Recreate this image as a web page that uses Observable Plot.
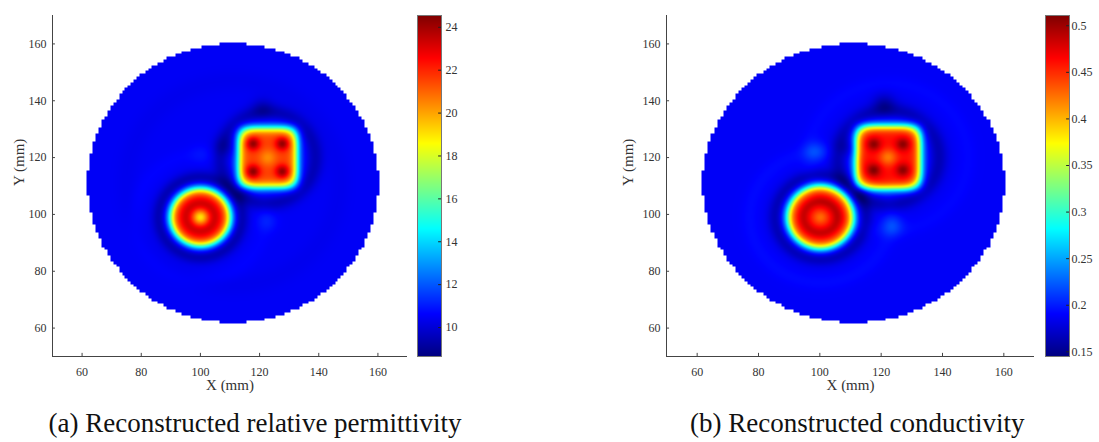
<!DOCTYPE html>
<html><head><meta charset="utf-8">
<script src="https://cdn.jsdelivr.net/npm/d3@7"></script>
<script src="https://cdn.jsdelivr.net/npm/@observablehq/plot@0.6"></script>
<style>
body{margin:0;background:#fff;}
#root{position:relative;width:1099px;height:442px;overflow:hidden;font-family:"Liberation Serif","Times New Roman",Tinos,"DejaVu Serif",serif;}
.part{position:absolute;top:0;}
.caption{position:absolute;font-size:27px;line-height:27px;color:#111;white-space:nowrap;}
</style></head><body><div id="root"></div>
<script>
// ---------- shared axes ----------
const xTicks = [60, 80, 100, 120, 140, 160];
const yTicks = [60, 80, 100, 120, 140, 160];
const axisDomain = [50, 170];
const diskCenterX = 111, diskCenterY = 111, diskRadius = 49.2;

// ---------- (a) relative permittivity ----------
const permColorDomain = [8.65, 24.55];
const permColorTicks = [10, 12, 14, 16, 18, 20, 22, 24];
const permBackground = 10.5;
const permBlobX = [100.0, 122.8];
const permBlobY = [99.0, 120.0];
const permBlobRx = [9.9, 9.8];
const permBlobRy = [9.9, 10.4];
const permBlobPower = [2, 5];
const permBlobEdge = [1.0, 0.9];
const permBlobLevel = [22.6, 21.6];
const permSpotX = [117.8, 127.7, 117.8, 127.7, 122.8, 100.0, 121.0, 108.5, 114.5, 122.5, 100.0];
const permSpotY = [124.9, 124.9, 115.1, 115.1, 120.0, 99.0, 137.5, 124.0, 108.0, 97.5, 121.0];
const permSpotAmp = [2.7, 2.7, 2.7, 2.7, -1.2, -3.6, -0.7, -0.6, -0.6, 0.5, 0.25];
const permSpotSigma = [1.6, 1.6, 1.6, 1.6, 2.0, 1.8, 2.5, 2.5, 2.0, 2.5, 2.5];
const permRingX = [100, 100, 100, 122.8, 111];
const permRingY = [99, 99, 99, 120, 111];
const permRingR = [4.8, 13.8, 22, 16, 36];
const permRingAmp = [0.8, -1.2, 0.15, -1.0, -0.12];
const permRingWidth = [1.3, 1.8, 2.0, 2.0, 2.5];

// ---------- (b) conductivity ----------
const condColorDomain = [0.145, 0.511];
const condColorTicks = [0.15, 0.2, 0.25, 0.3, 0.35, 0.4, 0.45, 0.5];
const condBackground = 0.188;
const condBlobX = [100.2, 122.3];
const condBlobY = [99.0, 120.1];
const condBlobRx = [10.5, 10.5];
const condBlobRy = [10.8, 11.0];
const condBlobPower = [2, 5];
const condBlobEdge = [1.0, 0.9];
const condBlobLevel = [0.462, 0.462];
const condSpotX = [117.6, 127.1, 117.6, 127.1, 122.3, 100.2, 121.0, 109.5, 114.0, 123.6, 98.5];
const condSpotY = [124.7, 124.7, 115.6, 115.6, 120.1, 99.0, 139.0, 123.0, 108.0, 96.0, 122.0];
const condSpotAmp = [0.045, 0.045, 0.045, 0.045, -0.04, -0.035, -0.024, -0.018, -0.018, 0.024, 0.024];
const condSpotSigma = [1.6, 1.6, 1.6, 1.6, 2.0, 1.8, 2.5, 2.5, 2.0, 2.5, 2.5];
const condRingX = [100.2, 100.2, 100.2, 122.3, 122.3];
const condRingY = [99.0, 99.0, 99.0, 120.1, 120.1];
const condRingR = [5.5, 14.5, 23, 16.5, 26];
const condRingAmp = [0.025, -0.026, 0.005, -0.024, 0.004];
const condRingWidth = [1.3, 1.8, 2.0, 2.0, 2.0];

// MATLAB "jet" colormap
function jet(t) {
  const c = v => Math.max(0, Math.min(1, v));
  const r = c(1.5 - Math.abs(4 * t - 3)), g = c(1.5 - Math.abs(4 * t - 2)), b = c(1.5 - Math.abs(4 * t - 1));
  return `rgb(${Math.round(r * 255)},${Math.round(g * 255)},${Math.round(b * 255)})`;
}

function makeField(p) {
  return (x, y) => {
    const gx = Math.round(x), gy = Math.round(y);
    if ((gx - diskCenterX) ** 2 + (gy - diskCenterY) ** 2 > diskRadius ** 2) return NaN;
    let v = p.bg;
    for (let i = 0; i < p.bx.length; i++) {
      const dx = Math.abs(x - p.bx[i]) / p.rx[i], dy = Math.abs(y - p.by[i]) / p.ry[i];
      const d = Math.pow(Math.pow(dx, p.pw[i]) + Math.pow(dy, p.pw[i]), 1 / p.pw[i]);
      const R = (p.rx[i] + p.ry[i]) / 2;
      const s = 1 / (1 + Math.exp((d - 1) * R / p.edge[i]));
      v += (p.level[i] - p.bg) * s;
    }
    for (let i = 0; i < p.sx.length; i++) {
      const d2 = (x - p.sx[i]) ** 2 + (y - p.sy[i]) ** 2;
      v += p.sa[i] * Math.exp(-d2 / (2 * p.ss[i] ** 2));
    }
    for (let i = 0; i < p.qx.length; i++) {
      const r = Math.hypot(x - p.qx[i], y - p.qy[i]);
      v += p.qa[i] * Math.exp(-((r - p.qr[i]) ** 2) / (2 * p.qw[i] ** 2));
    }
    return v;
  };
}

const fieldA = makeField({bg: permBackground, bx: permBlobX, by: permBlobY, rx: permBlobRx, ry: permBlobRy, pw: permBlobPower, edge: permBlobEdge, level: permBlobLevel,
  sx: permSpotX, sy: permSpotY, sa: permSpotAmp, ss: permSpotSigma, qx: permRingX, qy: permRingY, qr: permRingR, qa: permRingAmp, qw: permRingWidth});
const fieldB = makeField({bg: condBackground, bx: condBlobX, by: condBlobY, rx: condBlobRx, ry: condBlobRy, pw: condBlobPower, edge: condBlobEdge, level: condBlobLevel,
  sx: condSpotX, sy: condSpotY, sa: condSpotAmp, ss: condSpotSigma, qx: condRingX, qy: condRingY, qr: condRingR, qa: condRingAmp, qw: condRingWidth});

const font = "'Liberation Serif','Times New Roman',Tinos,'DejaVu Serif',serif";
const ink = "#333";

function mapPanel(field, colorDomain, opts) {
  return Plot.plot({
    width: opts.width, height: 400,
    marginLeft: opts.marginLeft, marginRight: 10, marginTop: 15, marginBottom: 44,
    x: {domain: axisDomain}, y: {domain: axisDomain},
    color: {type: "linear", domain: colorDomain, interpolate: jet},
    style: {fontFamily: font, fontSize: "12px", color: ink, background: "none", overflow: "visible"},
    marks: [
      Plot.raster({fill: field, x1: axisDomain[0], x2: axisDomain[1], y1: axisDomain[0], y2: axisDomain[1]}),
      Plot.ruleX([axisDomain[0]], {stroke: "#444"}),
      Plot.ruleY([axisDomain[0]], {stroke: "#444"}),
      Plot.ruleY(yTicks, {x1: axisDomain[0], x2: axisDomain[0] + 1, stroke: "#444"}),
      Plot.ruleX(xTicks, {y1: axisDomain[0], y2: axisDomain[0] + 1.1, stroke: "#444"}),
      Plot.axisX({ticks: xTicks, tickSize: 0, tickPadding: 11, label: null, fill: ink, fontFamily: font}),
      Plot.axisY({ticks: yTicks, tickSize: 0, tickPadding: 6, label: null, fill: ink, fontFamily: font}),
      Plot.text(["X (mm)"], {frameAnchor: "bottom", dy: 33, fontSize: 15, fill: ink, fontFamily: font}),
      Plot.text(["Y (mm)"], {frameAnchor: "left", dx: opts.ylabelDx, rotate: -90, fontSize: 15, fill: ink, fontFamily: font})
    ]
  });
}

function colorbar(colorDomain, ticks, marginRight, padding) {
  return Plot.plot({
    width: 24 + marginRight, height: 366,
    marginLeft: 0, marginRight, marginTop: 15, marginBottom: 10,
    x: {domain: [0, 1], axis: null},
    y: {domain: colorDomain, axis: null},
    color: {type: "linear", domain: colorDomain, interpolate: jet},
    style: {fontFamily: font, fontSize: "12px", color: ink, background: "none", overflow: "visible"},
    marks: [
      Plot.raster({fill: (x, y) => y, x1: 0, x2: 1, y1: colorDomain[0], y2: colorDomain[1]}),
      Plot.frame({stroke: "#777"}),
      Plot.ruleY(ticks, {x1: 0.88, x2: 1, stroke: "#222"}),
      Plot.axisY({anchor: "right", ticks, tickSize: 0, tickPadding: padding, label: null, fill: ink, fontFamily: font, tickFormat: d => String(d)})
    ]
  });
}

const root = document.getElementById("root");
function place(node, left) { node.classList.add("part"); node.style.left = left + "px"; root.appendChild(node); }

place(mapPanel(fieldA, permColorDomain, {width: 417, marginLeft: 52, ylabelDx: -33}), 0);
place(colorbar(permColorDomain, permColorTicks, 40, 4), 417);
place(mapPanel(fieldB, condColorDomain, {width: 444, marginLeft: 66, ylabelDx: -38}), 600);
place(colorbar(condColorDomain, condColorTicks, 30, 2), 1045);

const captions = [["(a) Reconstructed relative permittivity", 255], ["(b) Reconstructed conductivity", 857]];
for (const [text, cx] of captions) {
  const d = document.createElement("div");
  d.className = "caption";
  d.textContent = text;
  root.appendChild(d);
  d.style.top = "410px";
  d.style.left = (cx - d.offsetWidth / 2) + "px";
}
</script></body></html>
